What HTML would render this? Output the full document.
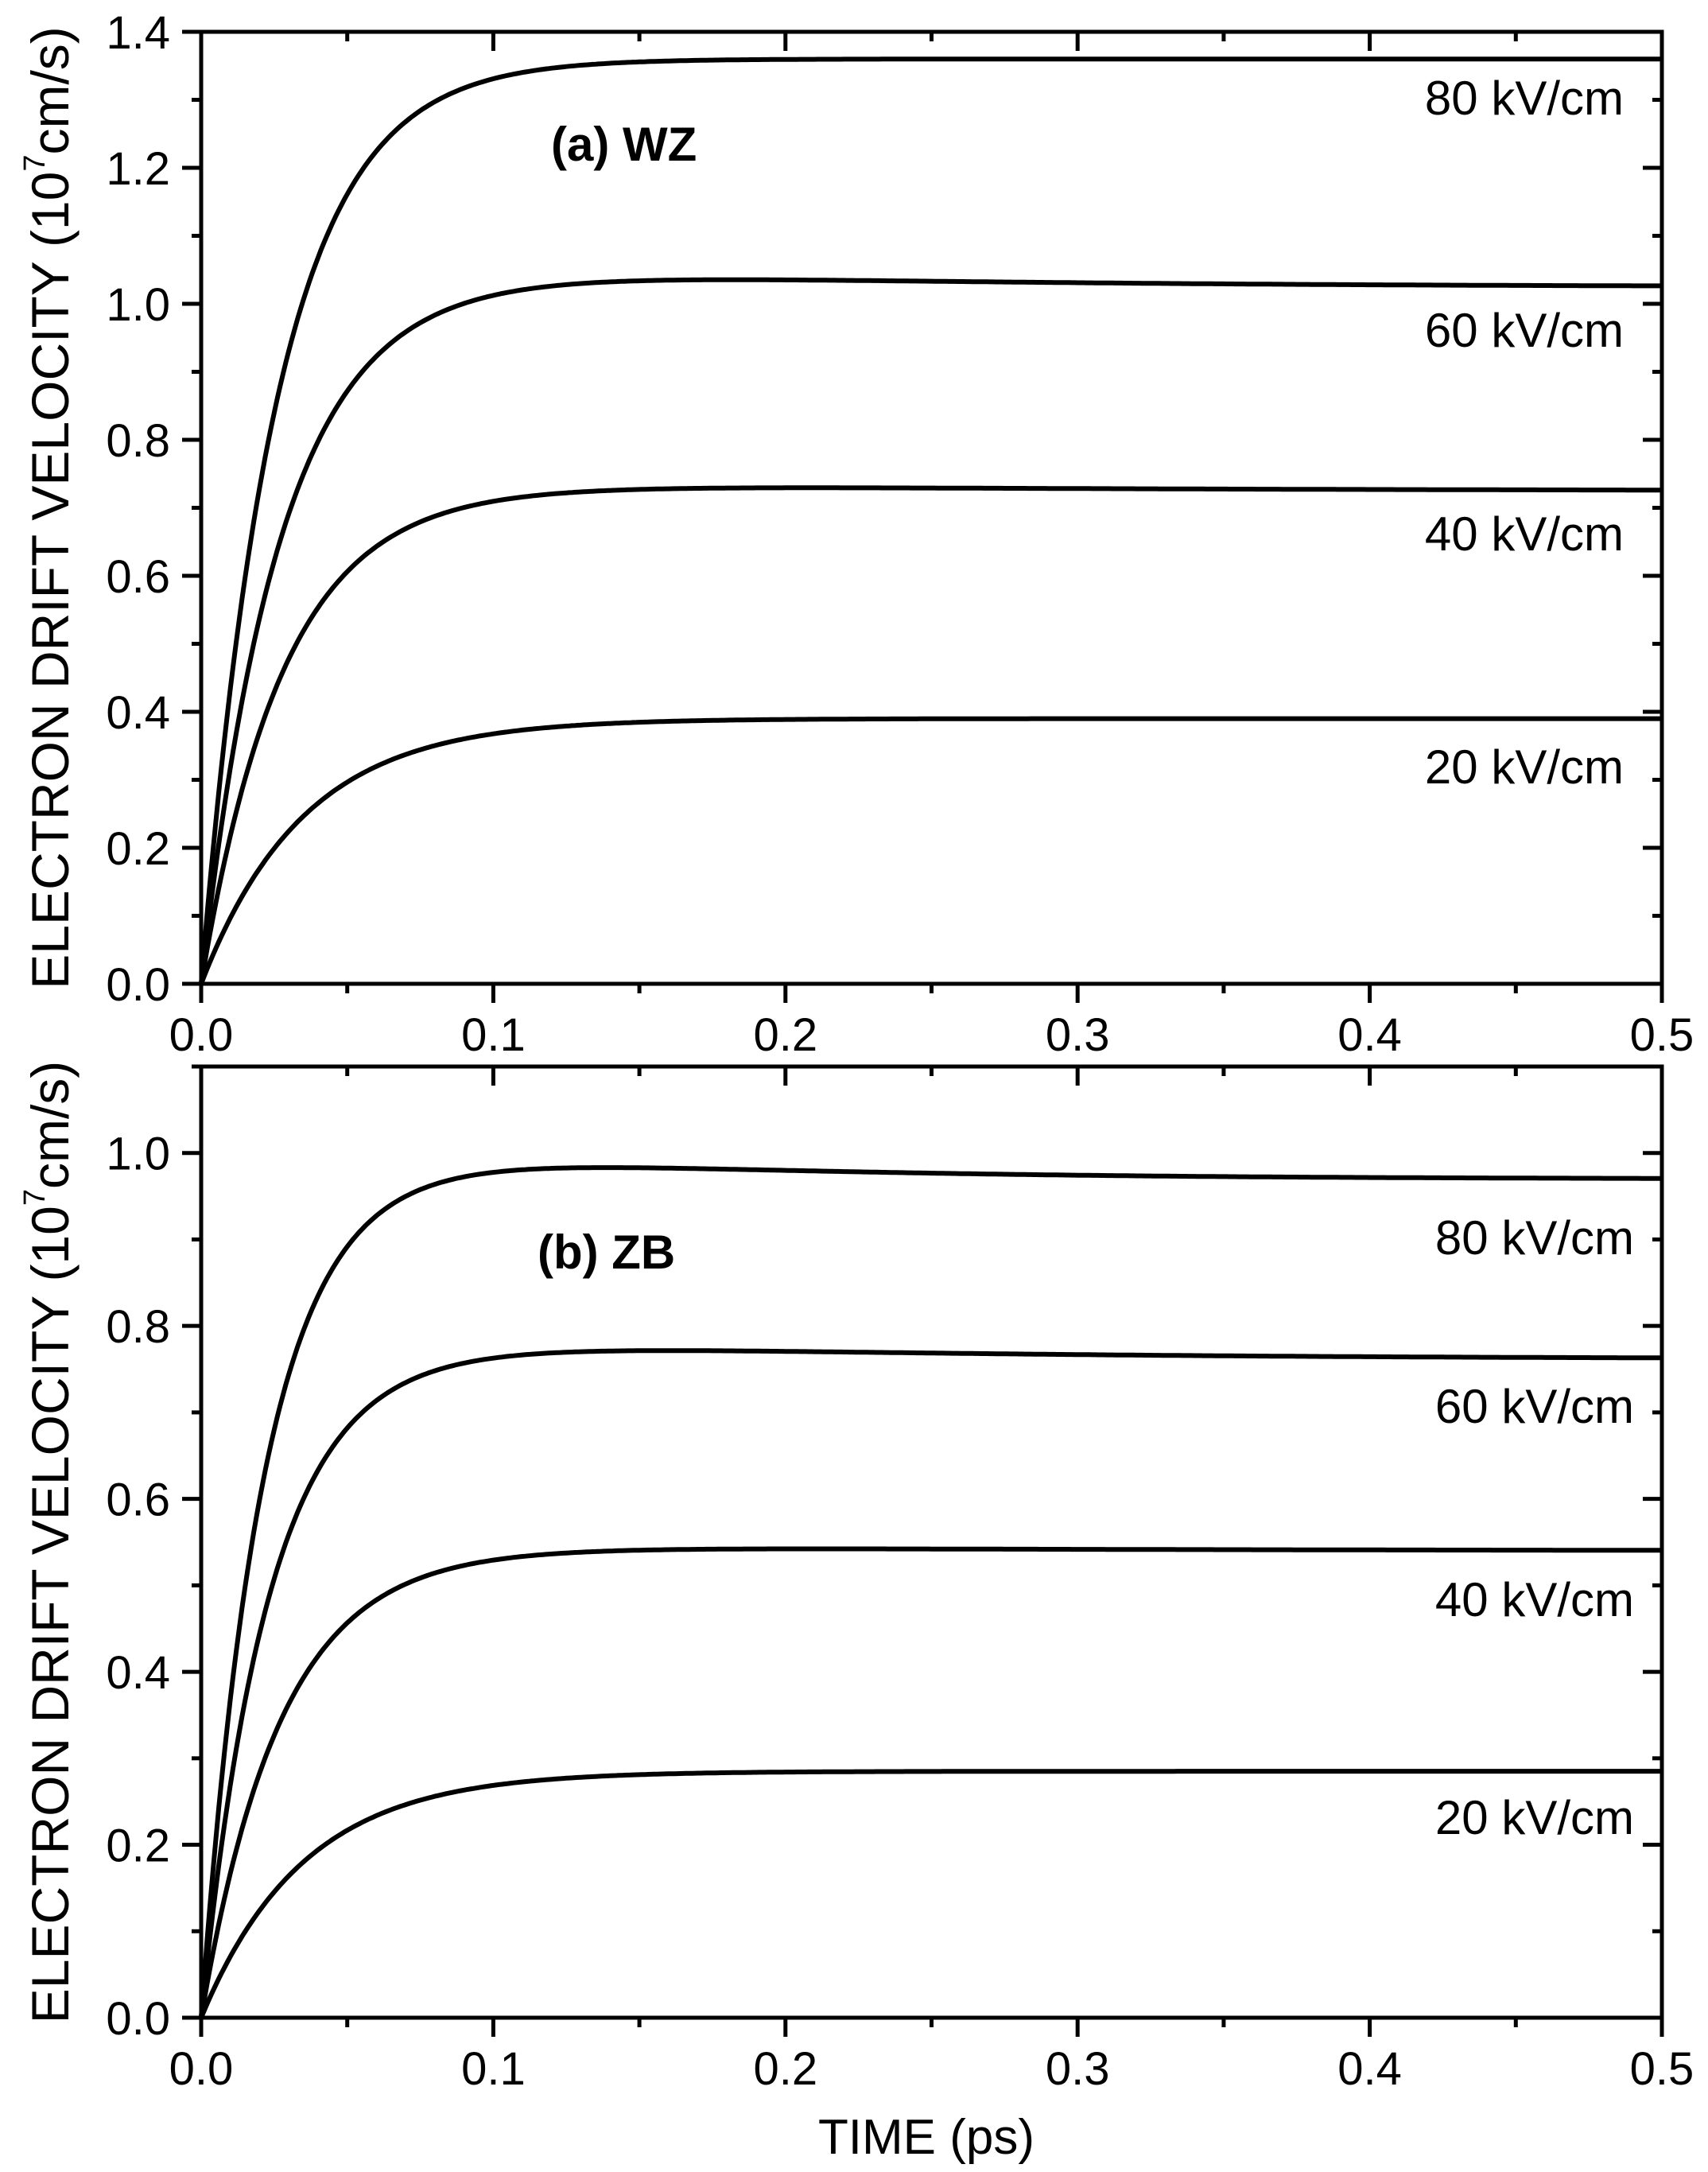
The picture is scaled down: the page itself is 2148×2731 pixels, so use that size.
<!DOCTYPE html>
<html><head><meta charset="utf-8"><style>
html,body{margin:0;padding:0;background:#fff;}
svg{display:block;font-family:"Liberation Sans",Arial,sans-serif;}
</style></head><body>
<svg id="s" width="2148" height="2731" viewBox="0 0 2148 2731" xmlns="http://www.w3.org/2000/svg"></svg>
<script>
const S=document.getElementById('s');
let h='';
const L=253,R=2090,XW=(R-L)/0.5;
function X(t){return L+t*XW;}
function panel(top,bot,vmax,minorStep,curves,labels,title,titleXY){
  const Y=v=>bot-(bot-top)*v/vmax;
  h+=`<rect x="${L}" y="${top}" width="${R-L}" height="${bot-top}" fill="none" stroke="#000" stroke-width="5"/>`;
  for(let i=0;i<=10;i++){const t=i*0.05,x=X(t),len=i%2==0?24:12;
    h+=`<line x1="${x}" y1="${bot}" x2="${x}" y2="${bot+len}" stroke="#000" stroke-width="5"/>`;
    h+=`<line x1="${x}" y1="${top}" x2="${x}" y2="${top+len}" stroke="#000" stroke-width="5"/>`;
    if(i%2==0)h+=`<text x="${x}" y="${bot+84}" font-size="58" text-anchor="middle">${t.toFixed(1)}</text>`;}
  for(let v=0;v<=vmax+1e-6;v+=minorStep){
    const y=Y(v);const maj=Math.abs(Math.round(v*5)-v*5)<1e-6;const len=maj?24:12;
    h+=`<line x1="${L-len}" y1="${y}" x2="${L}" y2="${y}" stroke="#000" stroke-width="5"/>`;
    h+=`<line x1="${R-len}" y1="${y}" x2="${R}" y2="${y}" stroke="#000" stroke-width="5"/>`;
    if(maj)h+=`<text x="214" y="${y+21}" font-size="58" text-anchor="end">${v.toFixed(1)}</text>`;}
  for(const c of curves){
    let d='';
    for(let i=0;i<=500;i++){const t=i*0.001;
      let v=c.vs*(1-Math.exp(-t/c.tau))+c.b*(t/c.tp)*Math.exp(1-t/c.tp)*(1-Math.exp(-t/c.tau*0.5));
      d+=(i?'L':'M')+X(t).toFixed(1)+' '+Y(v).toFixed(1);}
    h+=`<path d="${d}" fill="none" stroke="#000" stroke-width="6"/>`;}
  for(const l of labels)h+=`<text x="${l[0]}" y="${l[1]}" font-size="60" text-anchor="end">${l[2]} kV/cm</text>`;
  h+=`<text x="${titleXY[0]}" y="${titleXY[1]}" font-size="60" font-weight="bold">${title}</text>`;
  const cy=(top+bot)/2;
  h+=`<text transform="translate(86 ${cy}) rotate(-90)" font-size="66" text-anchor="middle">ELECTRON DRIFT VELOCITY (10<tspan font-size="38" dy="-30">7</tspan><tspan dy="30">cm/s)</tspan></text>`;
}
panel(40,1237,1.4,0.1,[
 {vs:1.36,tau:0.026,b:0,tp:0.1},
 {vs:1.025,tau:0.027,b:0.015,tp:0.1},
 {vs:0.725,tau:0.028,b:0.006,tp:0.12},
 {vs:0.39,tau:0.035,b:0,tp:0.1}],
 [[2042,144,80],[2042,436,60],[2042,692,40],[2042,985,20]],'(a) WZ',[693,202]);
panel(1341,2537,1.1,0.1,[
 {vs:0.97,tau:0.021,b:0.018,tp:0.08},
 {vs:0.762,tau:0.023,b:0.012,tp:0.1},
 {vs:0.54,tau:0.027,b:0.003,tp:0.12},
 {vs:0.285,tau:0.035,b:0,tp:0.1}],
 [[2055,1577],[2055,1789],[2055,2032],[2055,2306]].map((a,i)=>[a[0],a[1],[80,60,40,20][i]]),'(b) ZB',[676,1595]);
h+=`<text x="1165" y="2708" font-size="62" text-anchor="middle">TIME (ps)</text>`;
S.innerHTML=h;
</script>
</body></html>
